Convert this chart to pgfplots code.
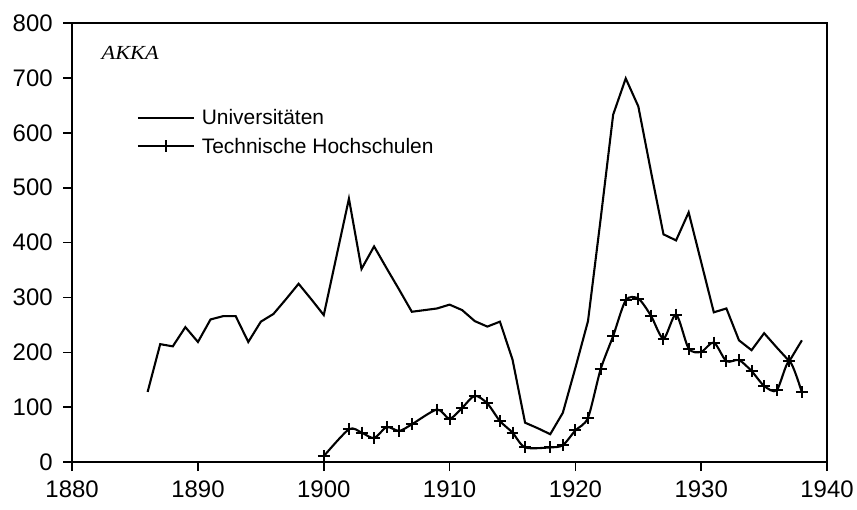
\documentclass[border=0pt]{standalone}
\usepackage{fontspec}
\setmainfont{Liberation Sans}
\newfontfamily\timesfont{Liberation Serif}
\usepackage{pgfplots}
\pgfplotsset{compat=1.18}
\begin{document}
\begin{tikzpicture}
\begin{axis}[
  scale only axis,
  width=756.7bp, height=440.3bp,
  xmin=1880, xmax=1940, ymin=0, ymax=800,
  xtick={1880,1890,...,1940},
  ytick={0,100,...,800},
  tick align=outside,
  xtick pos=bottom, ytick pos=left,
  major tick length=9bp,
  axis line style={line width=1.8bp},
  every tick/.style={line width=1.8bp, black},
  /pgf/number format/assume math mode=true,
  /pgf/number format/1000 sep={},
  tick label style={font=\fontsize{24bp}{28bp}\selectfont},
  xticklabel style={yshift=-6bp},
  yticklabel style={xshift=-7bp},
  legend style={at={(0.0855,0.808)}, anchor=north west, draw=none, fill=none,
    font=\fontsize{21bp}{25bp}\selectfont, inner sep=0pt, row sep=8bp, column sep=5bp},
  legend cell align=left,
  legend image code/.code={\draw[mark repeat=2,mark phase=2,#1] plot coordinates {(0bp,0bp) (28bp,0bp) (56bp,0bp)};},
]
\addplot[black, line width=2.1bp, mark=none] coordinates {
(1886,128) (1887,215) (1888,211) (1889,246) (1890,219) (1891,260) (1892,266)
(1893,266) (1894,219) (1895,256) (1896,270) (1897,297) (1898,325) (1899,297)
(1900,268) (1901,374) (1902,480) (1903,352) (1904,393) (1905,353) (1906,314)
(1907,274) (1908,277) (1909,280) (1910,287) (1911,277) (1912,257) (1913,247)
(1914,256) (1915,187) (1916,72) (1917,62) (1918,51) (1919,90) (1920,172)
(1921,257) (1922,442) (1923,633) (1924,699) (1925,648) (1926,530) (1927,415)
(1928,404) (1929,455) (1930,364) (1931,273) (1932,280) (1933,222) (1934,204)
(1935,235) (1936,209) (1937,184) (1938,222)
};
\addlegendentry{Universitäten}
\addplot[black, line width=2.1bp, smooth, tension=0.45, mark=+, mark size=6bp, mark options={line width=2bp}] coordinates {
(1900,11) (1902,60) (1903,54) (1904,44) (1905,64) (1906,57) (1907,69)
(1909,96) (1910,79) (1911,99) (1912,121) (1913,107) (1914,75) (1915,54)
(1916,27) (1918,27) (1919,31) (1920,58) (1921,81) (1922,169) (1923,230)
(1924,295) (1925,298) (1926,267) (1927,225) (1928,269) (1929,207) (1930,201)
(1931,218) (1932,184) (1933,186) (1934,166) (1935,139) (1936,131) (1937,184)
(1938,127)
};
\addlegendentry{Technische Hochschulen}
\node[anchor=base west, inner sep=0pt, xscale=1.12] at (axis cs:1882.33,733) {\timesfont\itshape\fontsize{20bp}{24bp}\selectfont AKKA};
\end{axis}
\useasboundingbox (-72.3bp,-47.7bp) rectangle (784.7bp,463.3bp);
\end{tikzpicture}
\end{document}
